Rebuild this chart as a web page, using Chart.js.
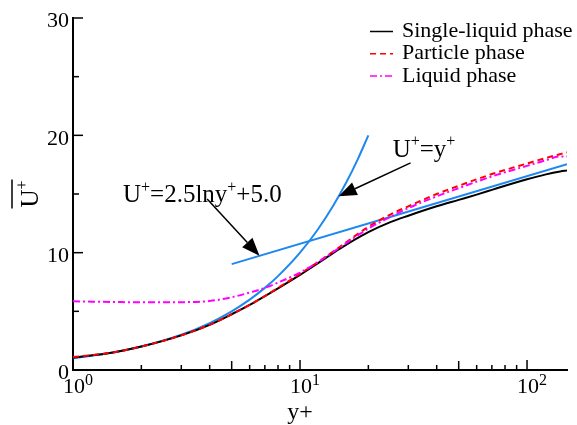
<!DOCTYPE html>
<html><head><meta charset="utf-8">
<script src="https://cdn.jsdelivr.net/npm/chart.js"></script>
<style>html,body{margin:0;padding:0;background:#fff;}</style>
</head><body>
<canvas id="c" width="577" height="425"></canvas>
<script>
// ---- data ----
const yPlus        = [1, 1.5, 2, 3, 4, 5, 6, 7, 8, 10, 12, 15, 20, 25, 30, 40, 50, 60, 70, 80, 100, 120, 140, 150];
const singleLiquid = [1.05, 1.5, 2.0, 2.95, 3.85, 4.75, 5.55, 6.3, 6.95, 8.1, 9.1, 10.35, 11.75, 12.6, 13.15, 13.95, 14.5, 14.95, 15.35, 15.7, 16.25, 16.65, 16.92, 17.0];
const particle     = [1.1, 1.5, 2.0, 2.95, 3.85, 4.75, 5.55, 6.3, 7.0, 8.2, 9.2, 10.5, 12.2, 13.25, 13.95, 15.0, 15.7, 16.25, 16.7, 17.05, 17.6, 18.05, 18.4, 18.55];
const liquid       = [5.85, 5.8, 5.77, 5.78, 5.88, 6.2, 6.6, 7.0, 7.45, 8.3, 9.2, 10.45, 12.05, 13.05, 13.8, 14.8, 15.5, 16.05, 16.5, 16.85, 17.4, 17.85, 18.2, 18.2];
const linearYPlus  = [1, 1.5, 2, 3, 4, 5, 6, 7, 8, 10, 12, 14, 16, 18, 20];
const linearU      = [1, 1.5, 2, 3, 4, 5, 6, 7, 8, 10, 12, 14, 16, 18, 20];
const logYPlus     = [5, 150];
const logU         = [9.02, 17.53];
const seriesNames  = ['Single-liquid phase', 'Particle phase', 'Liquid phase'];
const xTickValues  = [1,2,3,4,5,6,7,8,9,10,20,30,40,50,60,70,80,90,100];
const xMajorTicks  = [1, 10, 100];
const xMidTicks    = [5, 50];
const xTickExp     = ['0', '1', '2'];
const yTickValues  = [0, 10, 20, 30];
const yMinorTicks  = [5, 15, 25];
const xTitleAt     = 10;   // x title sits under the 10^1 tick
// annotation anchors in data units [y+, U+]
const noteLinear   = {text: 'U', sup1: '+', mid: '=y', sup2: '+', tail2: '', at: [25.6, 18.18], arrowFrom: [30.7, 17.65], arrowTo: [14.8, 14.8]};
const noteLog      = {text: 'U', sup1: '+', mid: '=2.5lny', sup2: '+', tail2: '+5.0', at: [1.66, 14.3], arrowFrom: [3.9, 14.58], arrowTo: [6.63, 9.73]};

const SERIF = '"Liberation Serif", "Times New Roman", serif';
const pts = (xs, ys) => xs.map((v, i) => ({x: v, y: ys[i]}));

const ds = [
  {label: seriesNames[2], data: pts(yPlus, liquid), borderColor: '#ff00ff', borderDash: [7,3,2,3], inLegend: 2},
  {label: seriesNames[1], data: pts(yPlus, particle), borderColor: '#ff0000', borderDash: [6,4], inLegend: 1},
  {label: seriesNames[0], data: pts(yPlus, singleLiquid), borderColor: '#000000', inLegend: 0},
  {label: 'U+=y+', data: pts(linearYPlus, linearU), borderColor: '#1e88f0'},
  {label: 'log law', data: pts(logYPlus, logU), borderColor: '#1e88f0'}
].map(d => Object.assign({showLine: true, pointRadius: 0, borderWidth: 2, fill: false, cubicInterpolationMode: 'monotone'}, d));

function drawSupText(ctx, x, y, parts, size) {
  let cx = x;
  parts.forEach(p => {
    if (!p.t) return;
    if (p.sup) {
      ctx.font = Math.round(size * 0.64) + 'px ' + SERIF;
      ctx.fillText(p.t, cx, y - size * 0.42);
    } else {
      ctx.font = size + 'px ' + SERIF;
      ctx.fillText(p.t, cx, y);
    }
    cx += ctx.measureText(p.t).width;
  });
  return cx - x;
}

function arrow(ctx, x1, y1, x2, y2) {
  const ang = Math.atan2(y2 - y1, x2 - x1);
  const L = 18, W = 7;
  const bx = x2 - L * Math.cos(ang), by = y2 - L * Math.sin(ang);
  ctx.beginPath(); ctx.moveTo(x1, y1); ctx.lineTo(bx, by); ctx.lineWidth = 1.5; ctx.stroke();
  ctx.beginPath();
  ctx.moveTo(x2, y2);
  ctx.lineTo(bx + W * Math.sin(ang), by - W * Math.cos(ang));
  ctx.lineTo(bx - W * Math.sin(ang), by + W * Math.cos(ang));
  ctx.closePath(); ctx.fill();
}

const decor = {
  id: 'decor',
  afterDraw(chart) {
    const {ctx, chartArea: a, scales: {x, y}} = chart;
    ctx.save();
    ctx.strokeStyle = '#000'; ctx.fillStyle = '#000'; ctx.lineWidth = 1.5;
    xTickValues.forEach(v => {
      const px = x.getPixelForValue(v);
      const len = xMajorTicks.includes(v) ? 10 : (xMidTicks.includes(v) ? 9 : 5);
      ctx.beginPath(); ctx.moveTo(px, a.bottom); ctx.lineTo(px, a.bottom - len); ctx.stroke();
    });
    yTickValues.forEach(v => {
      const py = y.getPixelForValue(v);
      ctx.beginPath(); ctx.moveTo(a.left, py); ctx.lineTo(a.left + 10, py); ctx.stroke();
    });
    yMinorTicks.forEach(v => {
      const py = y.getPixelForValue(v);
      ctx.beginPath(); ctx.moveTo(a.left, py); ctx.lineTo(a.left + 6, py); ctx.stroke();
    });
    ctx.textBaseline = 'alphabetic'; ctx.textAlign = 'left';
    xMajorTicks.forEach((v, i) => {
      const px = x.getPixelForValue(v);
      ctx.font = '22px ' + SERIF;
      const w = ctx.measureText('10').width;
      ctx.fillText('10', px - w / 2 + 1, a.bottom + 23);
      ctx.font = '16px ' + SERIF;
      ctx.fillText(xTickExp[i], px + w / 2 + 1, a.bottom + 15);
    });
    ctx.font = '24px ' + SERIF; ctx.textAlign = 'center';
    ctx.fillText('y+', x.getPixelForValue(xTitleAt), a.bottom + 49);
    ctx.save();
    ctx.translate(38, (a.top + a.bottom) / 2);
    ctx.rotate(-Math.PI / 2);
    ctx.textAlign = 'left';
    ctx.font = '25px ' + SERIF;
    const wu = ctx.measureText('U').width;
    ctx.font = '16px ' + SERIF;
    const wp = ctx.measureText('+').width;
    const tot = wu + wp;
    ctx.font = '25px ' + SERIF;
    ctx.fillText('U', -tot / 2, 0);
    ctx.font = '16px ' + SERIF;
    ctx.fillText('+', -tot / 2 + wu, -11);
    ctx.beginPath(); ctx.moveTo(-tot / 2 - 1, -26); ctx.lineTo(tot / 2 + 1, -26); ctx.lineWidth = 1.5; ctx.stroke();
    ctx.restore();
    const lx1 = 370, lx2 = 393;
    chart.data.datasets.filter(d => d.inLegend !== undefined).sort((p, q) => p.inLegend - q.inLegend).forEach((d, i) => {
      const ly = 31.5 + i * 22.2;
      ctx.save();
      ctx.strokeStyle = d.borderColor; ctx.lineWidth = 1.5; ctx.setLineDash(d.borderDash || []);
      ctx.beginPath(); ctx.moveTo(lx1, ly); ctx.lineTo(lx2, ly); ctx.stroke();
      ctx.restore();
      ctx.font = '22px ' + SERIF; ctx.textAlign = 'left'; ctx.textBaseline = 'middle';
      ctx.fillStyle = '#000';
      ctx.fillText(d.label, 402, ly);
    });
    ctx.textBaseline = 'alphabetic'; ctx.textAlign = 'left';
    [noteLinear, noteLog].forEach(n => {
      const tx = x.getPixelForValue(n.at[0]), ty = y.getPixelForValue(n.at[1]);
      drawSupText(ctx, tx, ty, [{t: n.text}, {t: n.sup1, sup: true}, {t: n.mid}, {t: n.sup2, sup: true}, {t: n.tail2}], 25);
      arrow(ctx, x.getPixelForValue(n.arrowFrom[0]), y.getPixelForValue(n.arrowFrom[1]),
                 x.getPixelForValue(n.arrowTo[0]), y.getPixelForValue(n.arrowTo[1]));
    });
    ctx.restore();
  }
};

new Chart(document.getElementById('c'), {
  type: 'scatter',
  data: {datasets: ds},
  options: {
    responsive: false, animation: false, devicePixelRatio: 1,
    layout: {padding: {left: 0, right: 10, top: 18, bottom: 0}},
    plugins: {legend: {display: false}, tooltip: {enabled: false}},
    scales: {
      x: {
        type: 'logarithmic', min: 1, max: 150,
        grid: {display: false, drawTicks: false},
        border: {display: true, color: '#000', width: 2},
        ticks: {display: false},
        afterFit: s => { s.height = 55; }
      },
      y: {
        type: 'linear', min: 0, max: 30,
        grid: {display: false, drawTicks: false},
        border: {display: true, color: '#000', width: 2},
        ticks: {stepSize: 10, color: '#000', padding: 4, labelOffset: 3.5, font: {family: SERIF, size: 22}},
        afterFit: s => { s.width = 73; }
      }
    }
  },
  plugins: [decor]
});
</script>
</body></html>
